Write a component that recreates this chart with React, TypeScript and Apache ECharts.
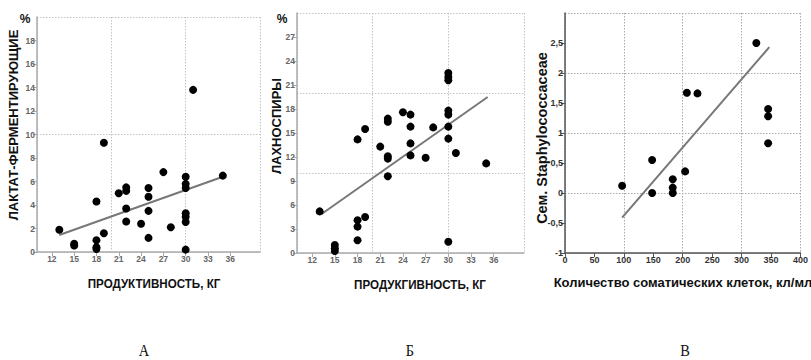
import React, { useEffect, useRef } from "react";
import * as echarts from "echarts";

// Panel A: lactate-fermenting (%) vs productivity (kg)
const aX = [13, 15, 15, 18, 18, 18, 18, 19, 19, 21, 22, 22, 22, 22, 24, 25, 25, 25, 25, 27, 28, 30, 30, 30, 30, 30, 30, 30, 31, 35];
const aY = [1.9, 0.7, 0.55, 4.3, 1.0, 0.4, 0.25, 9.3, 1.6, 5.0, 5.5, 5.2, 3.7, 2.6, 2.4, 5.45, 4.7, 3.5, 1.2, 6.8, 2.1, 6.4, 5.8, 5.45, 3.3, 3.0, 2.55, 0.2, 13.8, 6.5];
const aTrendX = [13, 35];
const aTrendY = [1.45, 6.4];

// Panel B: Lachnospiraceae (%) vs productivity (kg)
const bX = [13, 15, 15, 15, 18, 18, 18, 19, 18, 19, 21, 22, 22, 22, 22, 22, 24, 25, 25, 25, 25, 27, 28, 30, 30, 30, 30, 30, 30, 30, 30, 31, 35];
const bY = [5.2, 1.0, 0.6, 0.25, 4.1, 3.3, 1.6, 4.5, 14.2, 15.5, 13.3, 16.8, 16.4, 12.1, 11.8, 9.6, 17.6, 17.3, 15.8, 13.7, 12.2, 11.9, 15.7, 22.5, 22.0, 21.6, 17.8, 17.3, 15.8, 14.3, 1.4, 12.5, 11.2];
const bTrendX = [13.3, 35.2];
const bTrendY = [4.9, 19.5];

// Panel C: Staphylococcaceae vs somatic cell count
const cX = [97, 148, 148, 183, 183, 183, 204, 207, 225, 325, 345, 345, 345];
const cY = [0.12, 0.55, 0.0, 0.23, 0.09, 0.0, 0.36, 1.67, 1.66, 2.5, 1.4, 1.28, 0.83];
const cTrendX = [97, 347];
const cTrendY = [-0.41, 2.43];

// Tick labels
const kgTicks = [12, 15, 18, 21, 24, 27, 30, 33, 36];
const aYTicks = [0, 2, 4, 6, 8, 10, 12, 14, 16, 18];
const bYTicks = [0, 3, 6, 9, 12, 15, 18, 21, 24, 27];
const cXTicks = [0, 50, 100, 150, 200, 250, 300, 350, 400];
const cYTicks = [-1, -0.5, 0, 0.5, 1, 1.5, 2, 2.5];

// Titles
const aYName = "ЛАКТАТ-ФЕРМЕНТИРУЮЩИЕ";
const aXName = "ПРОДУКТИВНОСТЬ, КГ";
const bYName = "ЛАХНОСПИРЫ";
const bXName = "ПРОДУКГИВНОСТЬ, КГ";
const cYName = "Сем. Staphylococcaceae";
const cXName = "Количество соматических клеток, кл/мл";
const panelLetters = ["А", "Б", "В"];

const zip = (xs: number[], ys: number[]) => xs.map((x, i) => [x, ys[i]]);

export default function App() {
  const ref = useRef<HTMLDivElement>(null);
  useEffect(() => {
    const chart = echarts.init(ref.current!, null, { renderer: "svg" });

    const mainAxis = (gridIndex: number, min: number, max: number, interval: number, axisColor: string, axisWidth: number, splitColor: string) => ({
      type: "value",
      gridIndex,
      min,
      max,
      interval,
      axisLine: { show: true, onZero: false, lineStyle: { color: axisColor, width: axisWidth } },
      axisTick: { show: false },
      axisLabel: { show: false },
      splitLine: { show: true, lineStyle: { type: [1.5, 1.5], color: splitColor, width: 1 } },
    });

    const labelAxis = (gridIndex: number, min: number, max: number, interval: number, values: number[], pos: string, font: any, tickColor: string, fmt?: (v: number) => string) => ({
      type: "value",
      gridIndex,
      min,
      max,
      interval,
      position: pos,
      axisLine: { show: false, onZero: false },
      axisTick: { show: true, length: 4, customValues: values, lineStyle: { color: tickColor, width: 1 } },
      axisLabel: { show: true, customValues: values, margin: 2, formatter: fmt, ...font },
      splitLine: { show: false },
    });

    const smallFont = { fontFamily: "Liberation Sans Narrow, Liberation Sans, sans-serif", fontSize: 8.5, fontWeight: "bold", color: "#666" };
    const cFont = { fontFamily: "Liberation Sans, sans-serif", fontSize: 9, fontWeight: "bold", color: "#333" };
    const commaFmt = (v: number) => String(v).replace(".", ",");

    const narrowTitle = "bold 13.5px 'Liberation Sans Narrow', 'Liberation Sans', sans-serif";
    const yTitle = "bold 13px 'Liberation Sans', sans-serif";
    const cYTitle = "bold 14.5px 'Liberation Sans', sans-serif";
    const cXTitle = "bold 13px 'Liberation Sans', sans-serif";

    const txt = (x: number, y: number, text: string, font: string, rot = 0, sx = 1, fill = "#111") => ({
      type: "text",
      x,
      y,
      rotation: rot,
      scaleX: sx,
      style: { text, font, fill, align: "center", verticalAlign: "middle" },
    });

    const scatter = (xi: number, data: number[][]) => ({
      type: "scatter",
      xAxisIndex: xi,
      yAxisIndex: xi,
      data,
      symbolSize: 8,
      itemStyle: { color: "#000", opacity: 1 },
      z: 3,
    });
    const trend = (xi: number, data: number[][]) => ({
      type: "line",
      xAxisIndex: xi,
      yAxisIndex: xi,
      data,
      showSymbol: false,
      symbol: "none",
      lineStyle: { color: "#777", width: 2 },
      z: 2,
    });

    chart.setOption({
      animation: false,
      backgroundColor: "#fff",
      grid: [
        { left: 37, top: 17, width: 223, height: 235 },
        { left: 297, top: 13, width: 227, height: 240 },
        { left: 565, top: 13, width: 236, height: 240 },
      ],
      xAxis: [
        mainAxis(0, 10, 40, 10, "#aaa", 1.5, "#c4c4c4"),
        labelAxis(0, 10, 40, 10, kgTicks, "bottom", smallFont, "#aaa"),
        mainAxis(1, 10, 40, 10, "#aaa", 1.5, "#c4c4c4"),
        labelAxis(1, 10, 40, 10, kgTicks, "bottom", smallFont, "#aaa"),
        mainAxis(2, 0, 400, 100, "#555", 1.5, "#aaa"),
        labelAxis(2, 0, 400, 100, cXTicks, "bottom", cFont, "#555"),
      ],
      yAxis: [
        mainAxis(0, 0, 20, 10, "#aaa", 1.5, "#c4c4c4"),
        labelAxis(0, 0, 20, 10, aYTicks, "left", smallFont, "#aaa"),
        mainAxis(1, 0, 30, 10, "#aaa", 1.5, "#c4c4c4"),
        labelAxis(1, 0, 30, 10, bYTicks, "left", smallFont, "#aaa"),
        mainAxis(2, -1, 3, 1, "#555", 1.5, "#aaa"),
        labelAxis(2, -1, 3, 1, cYTicks, "left", cFont, "#555", commaFmt),
      ],
      series: [
        trend(0, zip(aTrendX, aTrendY)),
        scatter(0, zip(aX, aY)),
        trend(2, zip(bTrendX, bTrendY)),
        scatter(2, zip(bX, bY)),
        trend(4, zip(cTrendX, cTrendY)),
        scatter(4, zip(cX, cY)),
      ],
      graphic: [
        txt(13, 125, aYName, yTitle, Math.PI / 2),
        txt(154, 284, aXName, narrowTitle, 0, 0.86),
        txt(25, 19, "%", "bold 12px 'Liberation Sans', sans-serif"),
        txt(276, 126, bYName, yTitle, Math.PI / 2),
        txt(420, 285, bXName, narrowTitle, 0, 0.86),
        txt(282, 19, "%", "bold 12px 'Liberation Sans', sans-serif"),
        txt(542, 138, cYName, cYTitle, Math.PI / 2),
        txt(683, 282, cXName, cXTitle),
        txt(144, 350, panelLetters[0], "17px 'Liberation Serif', serif", 0, 0.85),
        txt(410, 350, panelLetters[1], "17px 'Liberation Serif', serif", 0, 0.85),
        txt(685, 350, panelLetters[2], "17px 'Liberation Serif', serif", 0, 0.85),
      ],
    });
    return () => chart.dispose();
  }, []);
  return <div ref={ref} style={{ position: "fixed", left: 0, top: 0, width: 811, height: 360, background: "#fff" }} />;
}
